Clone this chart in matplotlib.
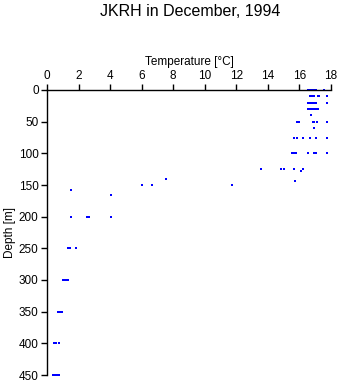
import matplotlib
matplotlib.use("Agg")
import matplotlib.pyplot as plt

title = "JKRH in December, 1994"
xlabel = "Temperature [\u00b0C]"
ylabel = "Depth [m]"
xticks = [0, 2, 4, 6, 8, 10, 12, 14, 16, 18]
yticks = [0, 50, 100, 150, 200, 250, 300, 350, 400, 450]

depth = [0]*7 + [10]*7 + [20]*7 + [30]*7 + [40] + [50]*6 + [60] + [75]*6 + [100]*7 \
    + [125]*5 + [128] + [140] + [143] + [150]*3 + [158] + [165] + [200]*4 \
    + [250]*3 + [300]*4 + [350]*3 + [400]*3 + [450]*4
temperature = [16.55, 16.65, 16.75, 16.85, 16.95, 17.05, 17.55,
               16.65, 16.75, 16.85, 16.95, 17.15, 17.25, 17.75,
               16.55, 16.65, 16.75, 16.85, 16.95, 17.05, 17.75,
               16.55, 16.65, 16.75, 16.85, 16.95, 17.05, 17.15,
               16.75,
               15.85, 16.0, 16.85, 16.95, 17.1, 17.75,
               16.9,
               15.65, 15.85, 16.2, 16.65, 17.05, 17.75,
               15.5, 15.65, 15.8, 16.55, 16.95, 17.05, 17.75,
               13.55, 14.85, 15.05, 15.65, 16.2,
               16.1,
               7.55,
               15.75,
               6.05, 6.65, 11.75,
               1.55,
               4.05,
               1.55, 2.55, 2.65, 4.05,
               1.3, 1.45, 1.85,
               1.0, 1.1, 1.2, 1.3,
               0.7, 0.8, 0.95,
               0.45, 0.6, 0.75,
               0.4, 0.5, 0.65, 0.75]

plt.rcParams['font.family'] = ['Liberation Sans', 'DejaVu Sans']

fig = plt.figure(figsize=(3.41, 3.84), dpi=100)
W, H = 341, 384
ax = fig.add_axes([47/W, (H-375)/H, (331-47)/W, (375-90)/H])

ax.plot(temperature, depth, linestyle='none', marker='s', markersize=2.1,
        color='#0000ff', markeredgewidth=0, clip_on=False)

ax.set_xlim(0, 18)
ax.set_ylim(450, 0)
ax.set_xticks(xticks)
ax.set_yticks(yticks)
ax.xaxis.tick_top()
ax.xaxis.set_label_position('top')
for s in ['right', 'bottom']:
    ax.spines[s].set_visible(False)
for s in ['left', 'top']:
    ax.spines[s].set_linewidth(1.0)
ax.tick_params(axis='both', direction='out', length=4, width=1, labelsize=8.5, pad=2)
ax.set_xlabel(xlabel, fontsize=8.5, labelpad=3)
ax.set_ylabel(ylabel, fontsize=8.5, labelpad=2)
fig.text(190/W, 1 - 11/H, title, ha='center', va='center', fontsize=11.5)

fig.savefig("out.png", dpi=100)
